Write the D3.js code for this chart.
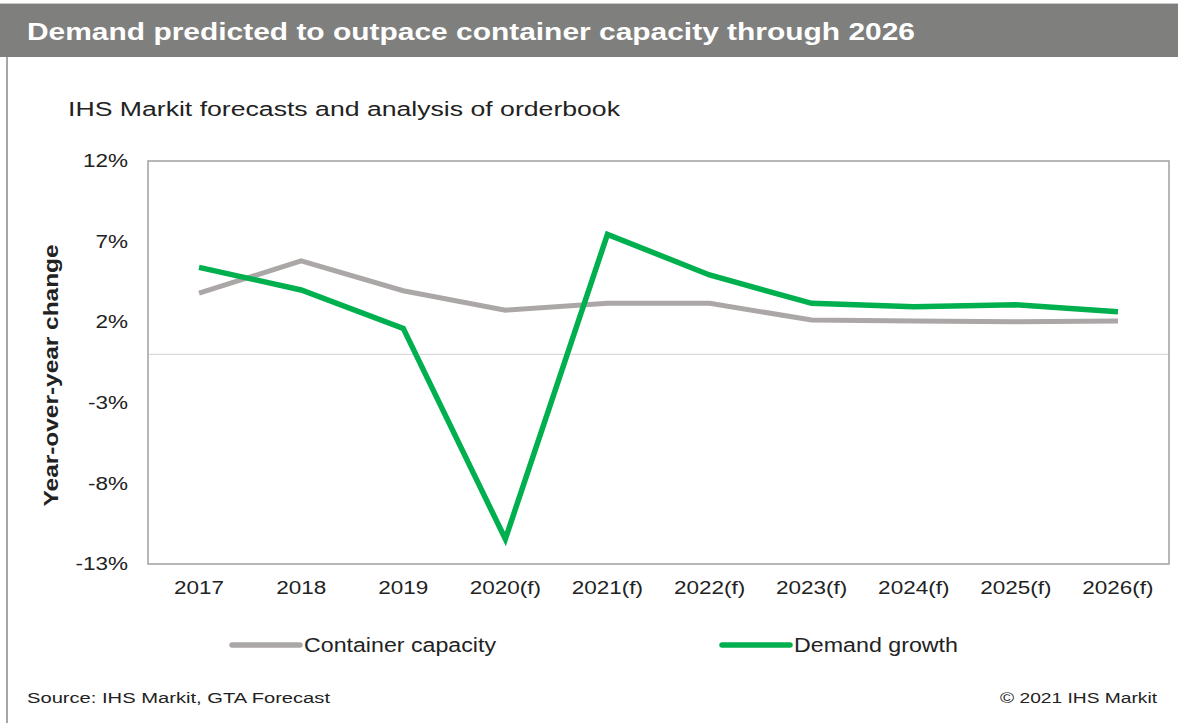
<!DOCTYPE html>
<html>
<head>
<meta charset="utf-8">
<script src="https://cdn.jsdelivr.net/npm/d3@7"></script>
<style>
  html, body { margin: 0; padding: 0; background: #fff; }
  svg { display: block; font-family: Arial, "Liberation Sans", sans-serif; }
</style>
</head>
<body>
<svg id="chart" width="1178" height="723"></svg>
<script>
const categories = ["2017", "2018", "2019", "2020(f)", "2021(f)", "2022(f)", "2023(f)", "2024(f)", "2025(f)", "2026(f)"];
const containerCapacity = [3.8, 5.8, 3.95, 2.75, 3.17, 3.17, 2.14, 2.07, 2.03, 2.07];
const demandGrowth = [5.4, 4.0, 1.62, -11.45, 7.45, 4.93, 3.17, 2.96, 3.08, 2.65];
const yTicks = [12, 7, 2, -3, -8, -13];
const seriesNames = ["Container capacity", "Demand growth"];
const seriesColors = ["#aba7a7", "#00b04f"];

const svg = d3.select("#chart");
const W = 1178, H = 723;

function stretch(sel, factor) {
  sel.each(function () {
    const len = this.getComputedTextLength();
    d3.select(this).attr("textLength", len * factor).attr("lengthAdjust", "spacingAndGlyphs");
  });
}

// Title bar
svg.append("rect").attr("x", 0).attr("y", 3).attr("width", W).attr("height", 54).attr("fill", "#7f807e");
svg.append("line").attr("x1", 0).attr("x2", W).attr("y1", 3.5).attr("y2", 3.5).attr("stroke", "#c8c8c8").attr("stroke-width", 1);
svg.append("text").attr("x", 27).attr("y", 40).attr("fill", "#fff")
  .attr("font-size", 23).attr("font-weight", "bold")
  .attr("textLength", 888).attr("lengthAdjust", "spacingAndGlyphs")
  .text("Demand predicted to outpace container capacity through 2026");

// outer left border
svg.append("line").attr("x1", 7).attr("x2", 7).attr("y1", 57).attr("y2", H).attr("stroke", "#a6a6a6").attr("stroke-width", 2);

// Subtitle
svg.append("text").attr("x", 68).attr("y", 116).attr("fill", "#222")
  .attr("font-size", 20).attr("textLength", 552).attr("lengthAdjust", "spacingAndGlyphs")
  .text("IHS Markit forecasts and analysis of orderbook");

const plot = { left: 148, right: 1169, top: 161, bottom: 564 };

const x = d3.scaleBand().domain(categories).range([plot.left, plot.right]).padding(0);
const y = d3.scaleLinear().domain([-13, 12]).range([plot.bottom, plot.top]);

// zero line
svg.append("line").attr("x1", plot.left).attr("x2", plot.right)
  .attr("y1", y(0)).attr("y2", y(0)).attr("stroke", "#d9d9d9").attr("stroke-width", 1.2);

// plot border
svg.append("rect").attr("x", plot.left).attr("y", plot.top)
  .attr("width", plot.right - plot.left).attr("height", plot.bottom - plot.top)
  .attr("fill", "none").attr("stroke", "#a0a0a0").attr("stroke-width", 1.5);

// Y axis
const yAxis = d3.axisLeft(y).tickValues(yTicks).tickSize(0).tickPadding(0)
  .tickFormat(d => d + "%");
const yg = svg.append("g").attr("transform", `translate(${plot.left - 20},0)`).call(yAxis);
yg.select(".domain").remove();
yg.selectAll("text").attr("font-size", 18).attr("fill", "#222")
  .attr("font-family", "Arial, 'Liberation Sans', sans-serif");
stretch(yg.selectAll("text"), 1.25);

// X axis
const xAxis = d3.axisBottom(x).tickSize(0).tickPadding(0);
const xg = svg.append("g").attr("transform", `translate(0,${plot.bottom + 17})`).call(xAxis);
xg.select(".domain").remove();
xg.selectAll("text").attr("font-size", 18).attr("fill", "#222")
  .attr("font-family", "Arial, 'Liberation Sans', sans-serif");
stretch(xg.selectAll("text"), 1.25);

// Y axis title
svg.append("text").attr("transform", `translate(58,${y(-1.3)}) rotate(-90)`)
  .attr("text-anchor", "middle").attr("font-size", 20).attr("font-weight", "bold").attr("fill", "#222")
  .attr("textLength", 262).attr("lengthAdjust", "spacingAndGlyphs")
  .text("Year-over-year change");

// Lines
const line = d3.line().x((d, i) => x(categories[i]) + x.bandwidth() / 2).y(d => y(d));
[containerCapacity, demandGrowth].forEach((vals, k) => {
  svg.append("path").datum(vals).attr("d", line)
    .attr("fill", "none").attr("stroke", seriesColors[k])
    .attr("stroke-width", k === 0 ? 5 : 5.5).attr("stroke-linejoin", "miter");
});

// Legend
const legendPos = [232, 722];
seriesNames.forEach((name, k) => {
  const lx = legendPos[k];
  svg.append("line").attr("x1", lx).attr("x2", lx + 68).attr("y1", 645).attr("y2", 645)
    .attr("stroke", seriesColors[k]).attr("stroke-width", 5.5).attr("stroke-linecap", "round");
  svg.append("text").attr("x", lx + 72).attr("y", 652).attr("font-size", 20).attr("fill", "#222")
    .attr("textLength", name === "Container capacity" ? 192 : 164).attr("lengthAdjust", "spacingAndGlyphs")
    .text(name);
});

// Footer
svg.append("text").attr("x", 27).attr("y", 703).attr("font-size", 15.5).attr("fill", "#222")
  .attr("textLength", 303).attr("lengthAdjust", "spacingAndGlyphs")
  .text("Source: IHS Markit, GTA Forecast");
svg.append("text").attr("x", 1157).attr("y", 703).attr("font-size", 15.5).attr("fill", "#222")
  .attr("text-anchor", "end").attr("textLength", 157).attr("lengthAdjust", "spacingAndGlyphs")
  .text("© 2021 IHS Markit");
</script>
</body>
</html>
